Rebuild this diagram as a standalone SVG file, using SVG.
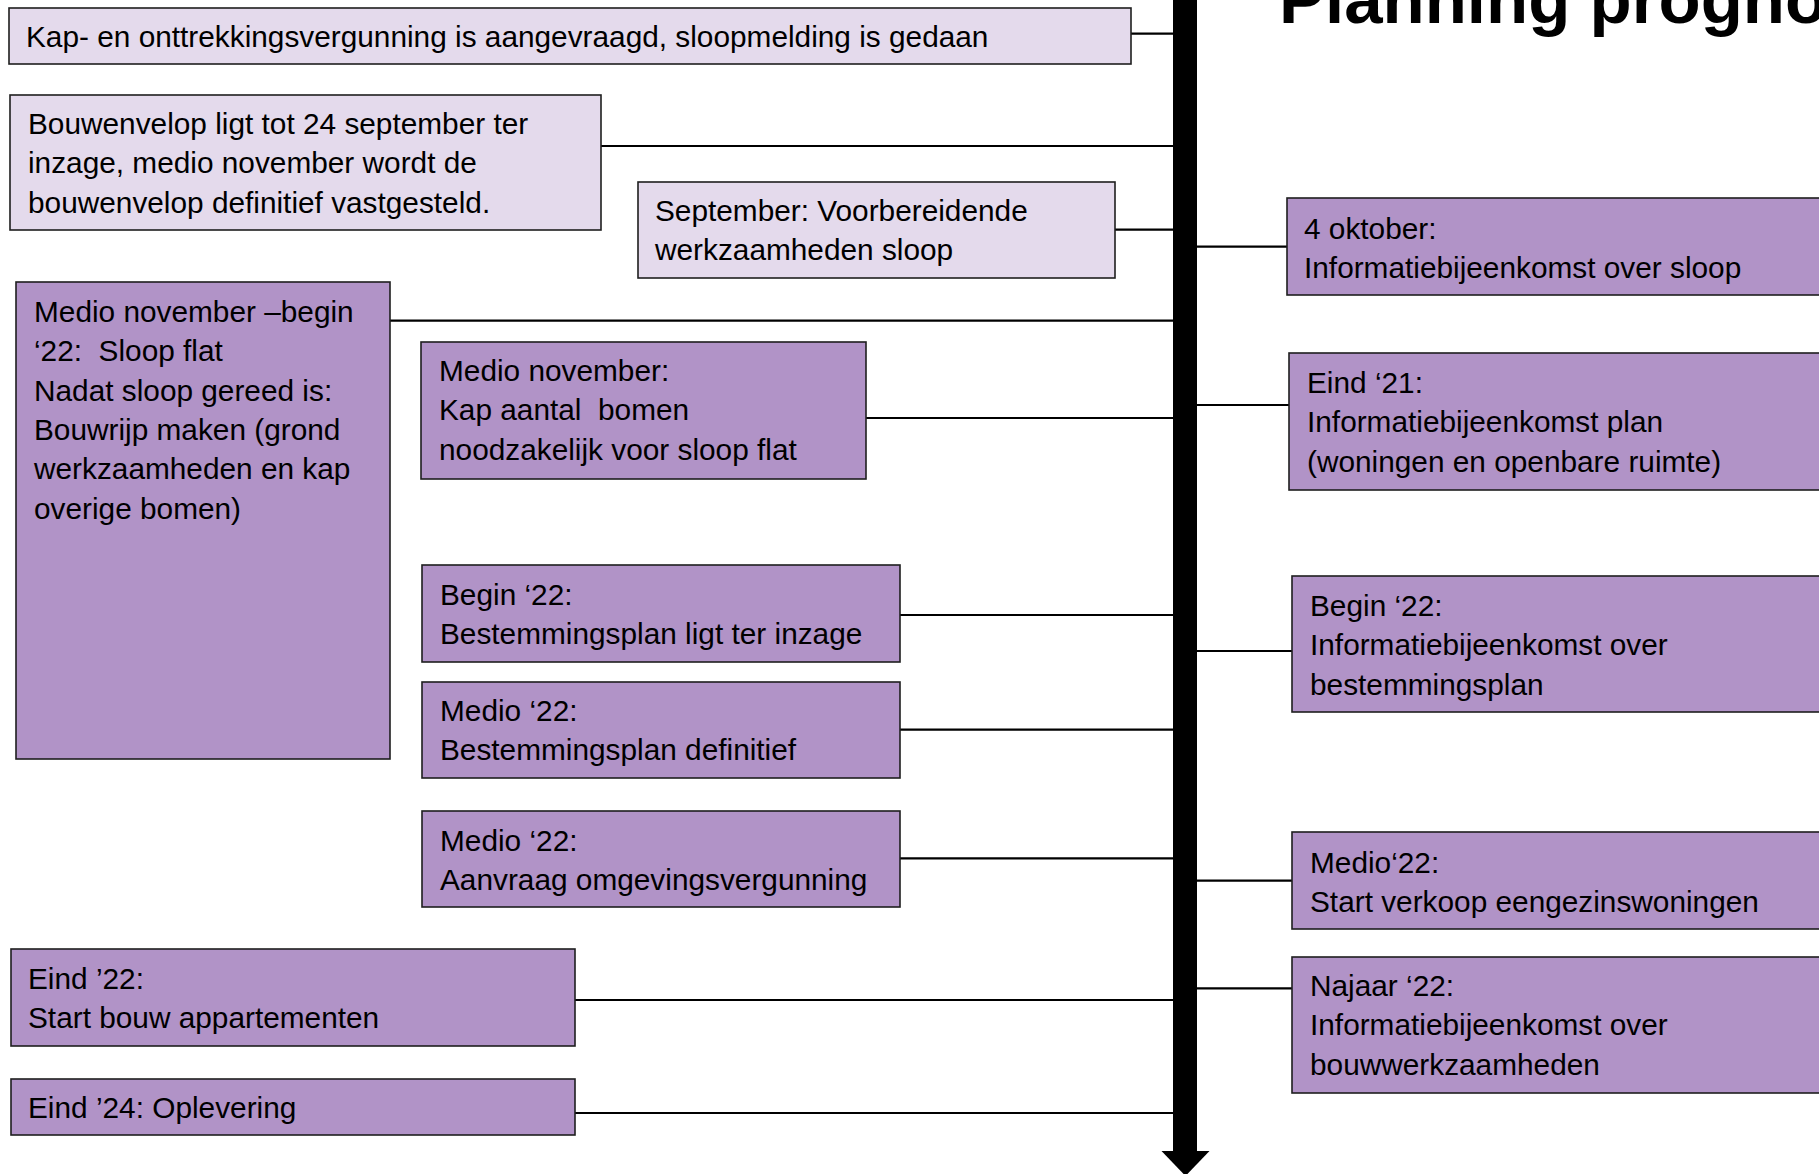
<svg xmlns="http://www.w3.org/2000/svg" width="1819" height="1174" viewBox="0 0 1819 1174">
<style>
  .light { fill: #E4DAEC; stroke: #1f1f1f; stroke-width: 1.6; }
  .dark { fill: #B193C7; stroke: #1f1f1f; stroke-width: 1.6; }
  .t { font-family: "Liberation Sans", Arial, sans-serif; font-size: 29.8px; fill: #000; white-space: pre; }
  .title { font-family: "Liberation Sans", Arial, sans-serif; font-size: 69px; font-weight: bold; fill: #000; }
  .conn line { stroke: #000; stroke-width: 2.2; }
</style>
<rect width="1819" height="1174" fill="#ffffff"/>

<text class="title" x="1279" y="23">Planning prognose</text>

<g id="connectors" class="conn">
  <line x1="1131" y1="33.6" x2="1185" y2="33.6"/>
  <line x1="601" y1="146" x2="1185" y2="146"/>
  <line x1="1115" y1="229.7" x2="1185" y2="229.7"/>
  <line x1="390" y1="320.7" x2="1185" y2="320.7"/>
  <line x1="866" y1="418" x2="1185" y2="418"/>
  <line x1="900" y1="615" x2="1185" y2="615"/>
  <line x1="900" y1="729.7" x2="1185" y2="729.7"/>
  <line x1="900" y1="858.3" x2="1185" y2="858.3"/>
  <line x1="575" y1="1000" x2="1185" y2="1000"/>
  <line x1="575" y1="1113" x2="1185" y2="1113"/>
  <line x1="1185" y1="246.7" x2="1287" y2="246.7"/>
  <line x1="1185" y1="405" x2="1289" y2="405"/>
  <line x1="1185" y1="651" x2="1292" y2="651"/>
  <line x1="1185" y1="880.7" x2="1292" y2="880.7"/>
  <line x1="1185" y1="988.3" x2="1292" y2="988.3"/>
</g>

<g id="timeline">
  <rect x="1173" y="-5" width="24" height="1158" fill="#000"/>
  <polygon points="1161.5,1151 1209.5,1151 1185.5,1176" fill="#000"/>
</g>

<g id="n1"><rect class="light" x="9" y="8" width="1122" height="56"/>
  <text class="t" x="26" y="47">Kap- en onttrekkingsvergunning is aangevraagd, sloopmelding is gedaan</text></g>

<g id="n2"><rect class="light" x="10" y="95" width="591" height="135"/>
  <text class="t" x="28" y="134">Bouwenvelop ligt tot 24 september ter</text>
  <text class="t" x="28" y="173.3">inzage, medio november wordt de</text>
  <text class="t" x="28" y="212.6">bouwenvelop definitief vastgesteld.</text></g>

<g id="n3"><rect class="light" x="638" y="182" width="477" height="96"/>
  <text class="t" x="655" y="221">September: Voorbereidende</text>
  <text class="t" x="655" y="260.3">werkzaamheden sloop</text></g>

<g id="n4"><rect class="dark" x="16" y="282" width="374" height="477"/>
  <text class="t" x="34" y="322">Medio november –begin</text>
  <text class="t" x="34" y="361.3">‘22:  Sloop flat</text>
  <text class="t" x="34" y="400.6">Nadat sloop gereed is:</text>
  <text class="t" x="34" y="439.9">Bouwrijp maken (grond</text>
  <text class="t" x="34" y="479.2">werkzaamheden en kap</text>
  <text class="t" x="34" y="518.5">overige bomen)</text></g>

<g id="n5"><rect class="dark" x="421" y="342" width="445" height="137"/>
  <text class="t" x="439" y="381">Medio november:</text>
  <text class="t" x="439" y="420.3">Kap aantal  bomen</text>
  <text class="t" x="439" y="459.6">noodzakelijk voor sloop flat</text></g>

<g id="n6"><rect class="dark" x="422" y="565" width="478" height="97"/>
  <text class="t" x="440" y="605">Begin ‘22:</text>
  <text class="t" x="440" y="644.3">Bestemmingsplan ligt ter inzage</text></g>

<g id="n7"><rect class="dark" x="422" y="682" width="478" height="96"/>
  <text class="t" x="440" y="721">Medio ‘22:</text>
  <text class="t" x="440" y="760.3">Bestemmingsplan definitief</text></g>

<g id="n8"><rect class="dark" x="422" y="811" width="478" height="96"/>
  <text class="t" x="440" y="850.5">Medio ‘22:</text>
  <text class="t" x="440" y="889.8">Aanvraag omgevingsvergunning</text></g>

<g id="n9"><rect class="dark" x="11" y="949" width="564" height="97"/>
  <text class="t" x="28" y="988.5">Eind ’22:</text>
  <text class="t" x="28" y="1027.8">Start bouw appartementen</text></g>

<g id="n10"><rect class="dark" x="11" y="1079" width="564" height="56"/>
  <text class="t" x="28" y="1118">Eind ’24: Oplevering</text></g>

<g id="r1"><rect class="dark" x="1287" y="198" width="560" height="97"/>
  <text class="t" x="1304" y="239">4 oktober:</text>
  <text class="t" x="1304" y="278.3">Informatiebijeenkomst over sloop</text></g>

<g id="r2"><rect class="dark" x="1289" y="353" width="560" height="137"/>
  <text class="t" x="1307" y="393">Eind ‘21:</text>
  <text class="t" x="1307" y="432.3">Informatiebijeenkomst plan</text>
  <text class="t" x="1307" y="471.6">(woningen en openbare ruimte)</text></g>

<g id="r3"><rect class="dark" x="1292" y="576" width="560" height="136"/>
  <text class="t" x="1310" y="616">Begin ‘22:</text>
  <text class="t" x="1310" y="655.3">Informatiebijeenkomst over</text>
  <text class="t" x="1310" y="694.6">bestemmingsplan</text></g>

<g id="r4"><rect class="dark" x="1292" y="832" width="560" height="97"/>
  <text class="t" x="1310" y="872.5">Medio‘22:</text>
  <text class="t" x="1310" y="911.8">Start verkoop eengezinswoningen</text></g>

<g id="r5"><rect class="dark" x="1292" y="957" width="560" height="136"/>
  <text class="t" x="1310" y="996">Najaar ‘22:</text>
  <text class="t" x="1310" y="1035.3">Informatiebijeenkomst over</text>
  <text class="t" x="1310" y="1074.6">bouwwerkzaamheden</text></g>
</svg>
